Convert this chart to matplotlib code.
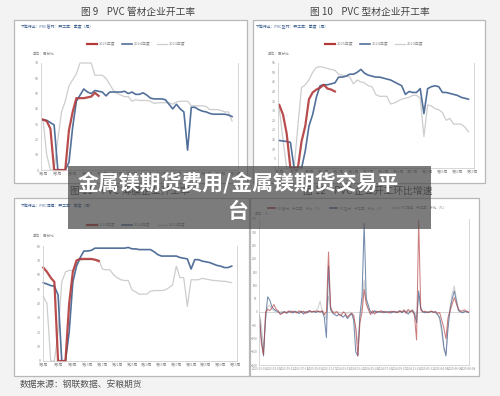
import matplotlib.pyplot as plt
from matplotlib.patches import Rectangle

plt.rcParams['font.family'] = ['Noto Sans CJK SC', 'DejaVu Sans']

W, H = 500, 396

# ---- data: weekly operating rates (%) ----
weeks = list(range(1, 53))
week_ticks = list(range(1, 54, 4))
week_labels = ['第%d周' % w for w in week_ticks]

# 图9 管材
pipe_2025 = [33, 32, 27, 0, 0, 0, 0, 26, 38, 47, 47, 47, 47.5, 48, 50.5, 48.5]
pipe_2024 = [32.8, 32.5, 31, 29.5, 0, 0, 0, 5, 28, 45, 49, 53, 51, 50, 52, 51.5,
             51, 48.5, 51, 51, 51, 51, 51.5, 50, 51, 49.5, 49.5, 50.5, 49, 47,
             46.5, 46.5, 46.5, 46, 43, 40, 43, 40, 38, 13, 41, 41, 39.5, 38.5,
             38, 37, 36.5, 36.5, 36.5, 36.5, 36, 35]
pipe_2023 = [33, 10, 0, 0, 20, 38, 45, 55, 59, 63, 70, 70, 70, 70, 62, 62,
             62, 60, 56, 52, 50, 49, 48, 48, 45, 46, 45.5, 45.5, 45.5, 45,
             43.5, 44, 44, 44, 44, 43, 44.5, 45, 45, 45, 42, 42, 42, 42, 41.5,
             39.5, 39.5, 39.5, 39, 38, 38, 32]

# 图10 型材
profile_2025 = [33, 28, 18, 0, 0, 0, 14, 22, 36, 39.5, 41, 42, 43.5, 41.5, 41, 40]
profile_2024 = [14.5, 14.2, 14, 13.5, 0, 0, 0, 9, 22, 28, 37, 43, 43.5, 43.5,
                44, 44.5, 47.5, 47.5, 48, 49, 49, 50, 51.5, 49.5, 48.5, 48,
                47.5, 47.5, 47, 46.5, 46, 45, 44, 43, 38.5, 40, 39.5, 39.5,
                41.5, 28.5, 41.5, 42.5, 43, 42.5, 39.5, 39.5, 39, 38.5, 38,
                37, 36.5, 36]
profile_2023 = [31, 15, 0, 0, 0, 22, 42, 43.5, 46, 50, 52.5, 53, 52.5, 52,
                51.5, 51, 49, 48.5, 48, 47.5, 44, 46, 45, 44.5, 43, 42.5, 38.5,
                37.5, 37.5, 37.5, 33.5, 34, 35, 36, 36.5, 37, 38, 38, 36.5,
                16.5, 33, 32.5, 31, 30.5, 29, 25, 26, 23, 23, 23, 21.5, 19]

# 图11 薄膜
film_2025 = [65, 62, 58, 55, 0, 0, 0, 40, 62, 70, 71, 71, 71, 71, 70.5, 69.5]
film_2024 = [54.5, 53.5, 52.5, 52, 46, 0, 0, 20, 55, 66, 72, 76.5, 76.5, 77,
             78.5, 78.5, 78.5, 78.5, 78.5, 78.5, 78.5, 78.5, 78.5, 79, 78, 78,
             77.5, 77.5, 77.5, 77.5, 76, 74, 73, 73, 73, 73, 73, 72, 71.5, 71,
             64, 70.5, 70.5, 69.5, 69, 68.5, 67.5, 66.5, 66, 65, 65, 66]
film_2023 = [45, 40, 0, 0, 20, 55, 62, 63, 63, 68, 70, 70.5, 70.5, 70.5, 70.5,
             70.5, 64, 63.5, 63.5, 60, 58, 56.5, 56, 56, 49.5, 48, 46.5, 46.5,
             46.5, 48.5, 49, 49, 49, 49.5, 51, 53, 66, 58, 58, 38, 56.5, 56.5,
             56.5, 57.5, 57, 56.5, 56, 56, 55.5, 55.5, 55, 54.5]

# 图12 环比增速
growth_dates = ['2023-01-06', '2023-03-10', '2023-05-12', '2023-07-14',
                '2023-09-15', '2023-11-17', '2024-01-19', '2024-03-22',
                '2024-05-24', '2024-07-26', '2024-09-27', '2024-11-29',
                '2025-01-31', '2025-04-04', '2025-06-06', '2025-08-08']
growth_pipe = [-15, -120, -160, 0, 10, 5, 15, 28, 10, 5,
               -10, -5, 0, -3, 4, -2, 3, 0, -4, 5,
               -2, 3, -6, 2, 5, 0, 3, 2, 4, 0,
               5, -10, 0, 225, 20, 0, -5, 2, -10, -15,
               0, -5, -20, -10, -5, -15, -60, -165, -40, 0,
               85, 30, 10, -10, 5, -8, 3, 0, 5, -3,
               2, 0, -4, 3, 0, 2, -3, 4, 0, 8,
               -5, 10, 0, 5, -15, -105, 345, 10, 0, 3,
               -2, 0, 3, -2, 2, -5, -2, -30, -60, -100,
               -20, 5, 30, 54, 30, 10, 3, 5, 8, 2, 0]
growth_profile = [-10, -100, -165, -20, 57, 45, 20, 10, 5, 0,
                  -5, -3, 2, -5, 0, 4, -4, 2, 0, -6,
                  3, -8, 2, -3, 5, 0, 2, -2, 3, 0,
                  2, -20, -96, 172, 10, -5, -10, -15, -8, -12,
                  -20, -10, -25, -15, -5, -30, -150, -165, -10, 60,
                  332, 50, 25, 0, -5, 5, -3, 2, -2, 3,
                  -3, 0, 2, -4, 3, -2, 0, 5, -3, 4,
                  0, -8, 2, 5, -5, -40, 79, 15, 0, -3,
                  0, -2, 3, 0, -2, -10, -20, -60, -130, -165,
                  -60, 10, 50, 79, 40, 5, 0, -3, 2, 0, -3]
growth_film = [-5, -50, -140, -30, 20, 25, 10, 5, 0, -2,
               0, 3, -2, 0, 2, -3, 0, 4, -2, 0,
               3, 0, -2, 2, 0, 3, -2, 5, 15, 40,
               5, 0, -30, 60, 5, 0, 2, -3, 0, -5,
               0, -2, -5, 0, -3, -10, -60, -120, -20, 20,
               120, 40, 10, 2, 0, 3, 0, -2, 2, 0,
               3, -2, 0, 2, 0, -3, 2, 0, 3, 0,
               5, 0, 3, 10, 0, -20, 60, 5, 0, 2,
               0, 2, -2, 0, 2, -5, -30, -80, -140, -160,
               -40, 20, 70, 97, 50, 10, 2, 0, 3, 0, 0]

RED = '#b23a3a'
BLUE = '#52709a'
GREY = '#cdcdcd'
TXT = '#8a8a8a'


def box(x0, y0, x1, y1):
    return [x0 / W, 1 - y1 / H, (x1 - x0) / W, (y1 - y0) / H]


def frame(fig, x0, y0, x1, y1):
    fig.patches.append(Rectangle((x0 / W, 1 - y1 / H), (x1 - x0) / W, (y1 - y0) / H,
                                 transform=fig.transFigure, facecolor='white',
                                 edgecolor='#b8b8b8', linewidth=0.9, zorder=-5))


def style(ax):
    ax.spines['top'].set_visible(False)
    for s in ['left', 'bottom', 'right']:
        ax.spines[s].set_color('#d0d0d0')
        ax.spines[s].set_linewidth(0.6)
    ax.tick_params(labelsize=2.6, colors=TXT, length=0, pad=1.5)
    ax.patch.set_alpha(0)


def legend_row(fig, cx, y, names, colors, widths, gap=58):
    n = len(names)
    start = cx - gap * (n - 1) / 2
    for i in range(n):
        x = start + gap * i
        fig.add_artist(plt.Line2D([(x - 18) / W, (x - 8) / W], [1 - y / H] * 2,
                                  color=colors[i], lw=widths[i]))
        fig.text((x - 6) / W, 1 - y / H, names[i], fontsize=2.8, color=TXT,
                 va='center', ha='left')


def weekly(fig, pos, ylim, step, s25, s24, s23, xlim):
    ax = fig.add_axes(box(*pos))
    style(ax)
    ax.plot(weeks, s23, color=GREY, lw=0.9, clip_on=False)
    ax.plot(weeks, s24, color=BLUE, lw=1.2, clip_on=False)
    ax.plot(weeks[:len(s25)], s25, color=RED, lw=1.6, alpha=0.9, clip_on=False)
    ax.set_ylim(*ylim)
    ax.set_yticks(range(ylim[0], ylim[1] + 1, step))
    ax.set_xlim(*xlim)
    ax.set_xticks(week_ticks)
    ax.set_xticklabels(week_labels)
    return ax


fig = plt.figure(figsize=(W / 100, H / 100), dpi=100, facecolor='#f3f3f3')

frame(fig, 14, 20, 247, 183)
frame(fig, 253, 20, 485, 183)
frame(fig, 14, 198, 249, 376)
frame(fig, 250, 198, 479, 376)

fig.text(138 / W, 1 - 12 / H, '图 9    PVC 管材企业开工率', fontsize=7, color='#444444',
         ha='center', va='center')
fig.text(370 / W, 1 - 12 / H, '图 10    PVC 型材企业开工率', fontsize=7, color='#444444',
         ha='center', va='center')
fig.text(130 / W, 1 - 191 / H, '图 11    PVC 薄膜企业开工率', fontsize=7, color='#444444',
         ha='center', va='center')
fig.text(368 / W, 1 - 191 / H, '图 12    PVC 企业开工环比增速', fontsize=7, color='#444444',
         ha='center', va='center')

hdr = '#3d5f8f'
fig.text(21 / W, 1 - 27 / H, '下游行业：PVC管材：开工率：季度（周）', fontsize=2.8,
         color=hdr, va='center')
fig.text(256 / W, 1 - 27 / H, '下游行业：PVC型材：开工率：季度（周）', fontsize=2.8,
         color=hdr, va='center')
fig.text(21 / W, 1 - 206 / H, '下游行业：PVC薄膜：开工率：季度（周）', fontsize=2.8,
         color=hdr, va='center')

for x, y in [(33, 54), (268, 54), (33, 236)]:
    fig.text(x / W, 1 - y / H, '单位：百分比', fontsize=2.6, color=TXT, va='center')
fig.text(255 / W, 1 - 214 / H, '单位：%', fontsize=2.6, color=TXT, va='center')

yrs = ['2025年度', '2024年度', '2023年度']
cols = [RED, BLUE, GREY]
lws = [1.6, 1.2, 0.9]
legend_row(fig, 140, 44, yrs, cols, lws, gap=35)
legend_row(fig, 378, 44, yrs, cols, lws, gap=35)
legend_row(fig, 140, 225, yrs, cols, lws, gap=35)

weekly(fig, (41, 63, 238, 170), (0, 70), 10, pipe_2025, pipe_2024, pipe_2023,
       (0.46, 53.6))
weekly(fig, (277.7, 62.7, 474, 168.3), (0, 55), 5, profile_2025, profile_2024,
       profile_2023, (0.57, 53.5))
weekly(fig, (42.7, 246, 236.7, 361), (0, 80), 10, film_2025, film_2024, film_2023,
       (0.84, 53.35))

# growth chart
ax = fig.add_axes(box(259.3, 218.7, 469, 365.3))
style(ax)
idx = list(range(len(growth_pipe)))
ax.axhline(0, color='#d0d0d0', lw=0.6)
ax.plot(idx, growth_film, color=GREY, lw=0.7)
ax.plot(idx, growth_profile, color=BLUE, lw=0.75, alpha=0.8)
ax.plot(idx, growth_pipe, color=RED, lw=0.75, alpha=0.65)
ax.set_ylim(-200, 350)
ax.set_yticks(range(-200, 351, 50))
ax.set_xlim(0, len(idx) - 1)
tick_pos = [i * (len(idx) - 1) / (len(growth_dates) - 1) for i in range(len(growth_dates))]
ax.set_xticks(tick_pos)
ax.set_xticklabels(growth_dates)
ax.tick_params(labelsize=2.2)

gnames = ['PVC管材：开工率：环比（%）', 'PVC型材：开工率：环比（%）',
          'PVC薄膜：开工率：环比（%）']
for i, (nm, c) in enumerate(zip(gnames, [RED, BLUE, GREY])):
    x = 268 + i * 62
    fig.add_artist(plt.Line2D([x / W, (x + 7) / W], [1 - 208 / H] * 2, color=c, lw=1.2))
    fig.text((x + 9) / W, 1 - 208 / H, nm, fontsize=2.4, color=TXT, va='center')

fig.text(20 / W, 1 - 384 / H, '数据来源：钢联数据、安粮期货', fontsize=6.3, color='#555555',
         va='center')

# overlay banner
fig.patches.append(Rectangle((68 / W, 1 - 229 / H), 363 / W, 63 / H,
                             transform=fig.transFigure, facecolor='#4a4a4a',
                             alpha=0.72, edgecolor='none', zorder=5))
fig.text(238 / W, 1 - 183 / H, '金属镁期货费用/金属镁期货交易平', fontsize=15,
         color='white', fontweight='bold', ha='center', va='center', zorder=6)
fig.text(238 / W, 1 - 211 / H, '台', fontsize=15, color='white', fontweight='bold',
         ha='center', va='center', zorder=6)

fig.savefig('out.png', dpi=100, facecolor=fig.get_facecolor())
